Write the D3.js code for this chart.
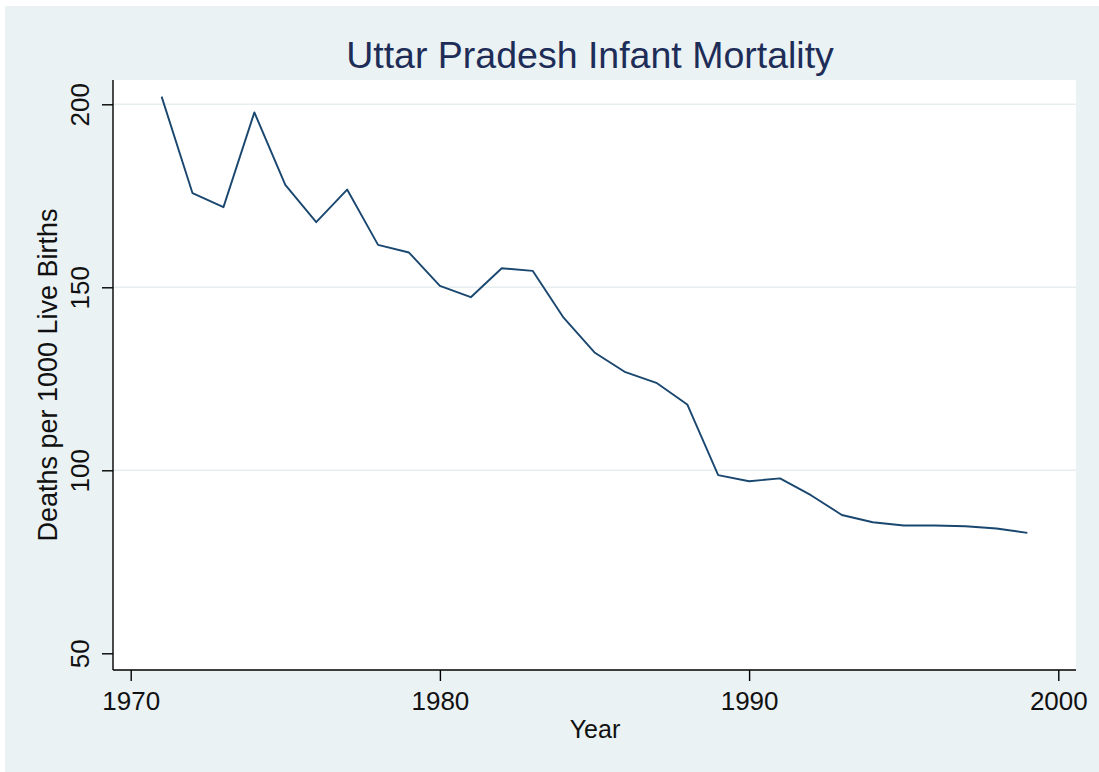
<!DOCTYPE html>
<html>
<head>
<meta charset="utf-8">
<script src="https://cdn.jsdelivr.net/npm/d3@7"></script>
<style>
  html, body { margin: 0; padding: 0; background: #ffffff; }
  svg { display: block; }
  text { font-family: "Liberation Sans", Arial, sans-serif; }
</style>
</head>
<body>
<svg id="chart" width="1099" height="772"></svg>
<script>
// ---- Data ----
const years = [1971,1972,1973,1974,1975,1976,1977,1978,1979,1980,
               1981,1982,1983,1984,1985,1986,1987,1988,1989,1990,
               1991,1992,1993,1994,1995,1996,1997,1998,1999];
const deaths = [202.1,175.7,171.9,197.8,178.0,167.8,176.7,161.6,159.5,150.4,
                147.3,155.2,154.5,141.7,132.2,126.8,123.9,118.0,98.7,97.0,
                97.8,93.2,87.8,85.8,84.9,84.9,84.7,84.1,82.9];
const xTicks = [1970, 1980, 1990, 2000];
const yTicks = [50, 100, 150, 200];
const yGrid = [100, 150, 200];
const titleText = "Uttar Pradesh Infant Mortality";
const xLabel = "Year";
const yLabel = "Deaths per 1000 Live Births";

// ---- Layout ----
const svg = d3.select("#chart");
const plot = { left: 113, right: 1076, top: 80, bottom: 670 };

const x = d3.scaleLinear().domain([1970, 2000]).range([130.7, 1058.3]);
const y = d3.scaleLinear().domain([50, 200]).range([653.3, 104.3]);

// outer background
svg.append("rect").attr("x", 5).attr("y", 6).attr("width", 1094).attr("height", 766)
  .attr("fill", "#eaf2f3");

// plot region
svg.append("rect").attr("x", plot.left).attr("y", plot.top)
  .attr("width", plot.right - plot.left).attr("height", plot.bottom - plot.top)
  .attr("fill", "#ffffff");

// gridlines
svg.append("g").selectAll("line").data(yGrid).join("line")
  .attr("x1", plot.left).attr("x2", plot.right)
  .attr("y1", d => y(d)).attr("y2", d => y(d))
  .attr("stroke", "#e6eef0").attr("stroke-width", 1.6);

// line
const line = d3.line().x((d, i) => x(years[i])).y(d => y(d));
svg.append("path").datum(deaths)
  .attr("d", line)
  .attr("fill", "none")
  .attr("stroke", "#1a476f")
  .attr("stroke-width", 1.9)
  .attr("stroke-linejoin", "round");

// x axis
const xAxis = d3.axisBottom(x).tickValues(xTicks).tickSize(11).tickPadding(11)
  .tickFormat(d3.format("d"));
const gx = svg.append("g").attr("transform", `translate(0,${plot.bottom})`).call(xAxis);
gx.select(".domain").remove();
gx.selectAll(".tick line").attr("stroke", "#000").attr("stroke-width", 1.4);
gx.selectAll(".tick text").attr("font-size", 26).attr("fill", "#111")
  .attr("font-family", "Liberation Sans, Arial, sans-serif");
svg.append("line").attr("x1", plot.left).attr("x2", plot.right)
  .attr("y1", plot.bottom).attr("y2", plot.bottom)
  .attr("stroke", "#000").attr("stroke-width", 1.4);

// y axis
const yAxis = d3.axisLeft(y).tickValues(yTicks).tickSize(11).tickFormat(d3.format("d"));
const gy = svg.append("g").attr("transform", `translate(${plot.left},0)`).call(yAxis);
gy.select(".domain").remove();
gy.selectAll(".tick line").attr("stroke", "#000").attr("stroke-width", 1.4);
gy.selectAll(".tick text")
  .attr("font-size", 26).attr("fill", "#111")
  .attr("font-family", "Liberation Sans, Arial, sans-serif")
  .attr("x", null).attr("dy", null)
  .attr("text-anchor", "middle")
  .attr("transform", "translate(-24,0) rotate(-90)");
svg.append("line").attr("x1", plot.left).attr("x2", plot.left)
  .attr("y1", plot.top).attr("y2", plot.bottom)
  .attr("stroke", "#000").attr("stroke-width", 1.4);

// title
svg.append("text").attr("x", 590).attr("y", 68)
  .attr("text-anchor", "middle").attr("font-size", 37.5).attr("fill", "#1e2d58")
  .text(titleText);

// axis titles
svg.append("text").attr("x", 595).attr("y", 738)
  .attr("text-anchor", "middle").attr("font-size", 25).attr("fill", "#111")
  .text(xLabel);
svg.append("text").attr("transform", "translate(57,375) rotate(-90)")
  .attr("text-anchor", "middle").attr("font-size", 27).attr("fill", "#111")
  .text(yLabel);
</script>
</body>
</html>
